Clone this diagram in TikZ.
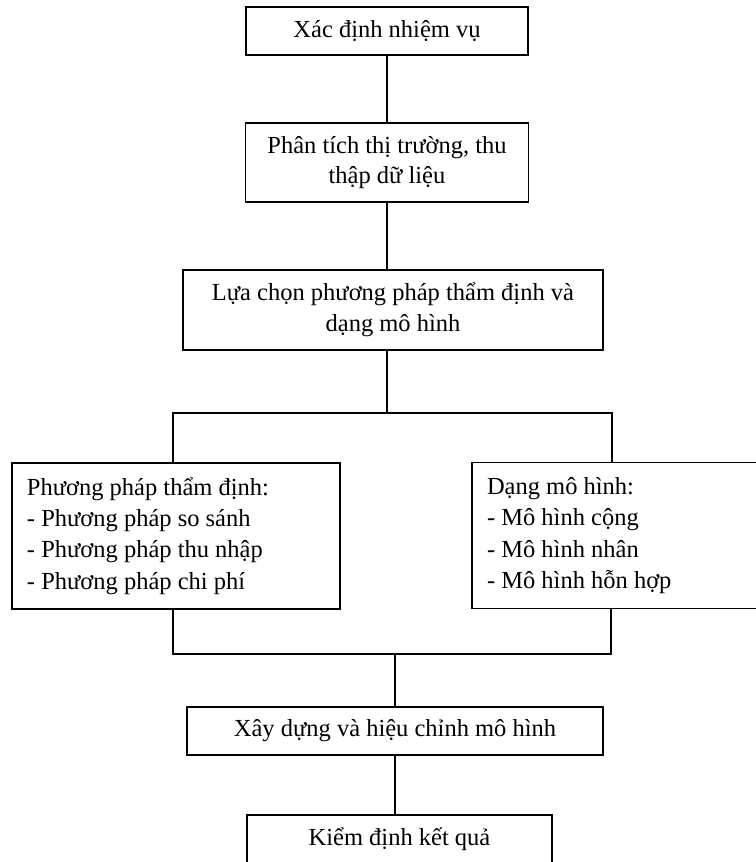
\documentclass[tikz,border=0pt]{standalone}
\usepackage{fontspec}
\setmainfont{Liberation Serif}
\usepackage{tikz}

\tikzset{
  stepbox/.style={draw, line width=1.6pt, minimum height=48pt, inner sep=0pt, align=center,
    font=\fontsize{24.5}{30.5}\selectfont},
  listbox/.style={draw, line width=1.6pt, minimum height=146pt, inner xsep=15pt, inner ysep=0pt,
    align=flush left, font=\fontsize{24.5}{31.3}\selectfont}
}

\begin{document}
\begin{tikzpicture}[x=1pt, y=-1pt, line width=1.6pt]
  \useasboundingbox (0,0) rectangle (755,862);

  % Main steps
  \node[stepbox, minimum width=282pt] (task) at (387,31) {Xác định nhiệm vụ};
  \node[stepbox, minimum width=283pt, minimum height=79pt] (market) at (387,162.5) {Phân tích thị trường, thu\\thập dữ liệu};
  \node[stepbox, minimum width=420pt, minimum height=80pt] (choice) at (393,310) {Lựa chọn phương pháp thẩm định và\\dạng mô hình};

  % Two branches
  \node[listbox, minimum width=328pt, text width=298pt] (methods) at (176,536) {Phương pháp thẩm định:\\- Phương pháp so sánh\\- Phương pháp thu nhập\\- Phương pháp chi phí};
  \node[listbox, minimum width=293pt, text width=263pt] (models) at (618.5,535.5) {Dạng mô hình:\\- Mô hình cộng\\- Mô hình nhân\\- Mô hình hỗn hợp};

  % Last steps
  \node[stepbox, minimum width=416pt] (build) at (395,731) {Xây dựng và hiệu chỉnh mô hình};
  \node[stepbox, minimum width=305pt] (check) at (399.5,839) {Kiểm định kết quả};

  % Connectors
  \coordinate (split) at (387,413);
  \coordinate (splitL) at (173,413);
  \coordinate (splitR) at (612,413);
  \coordinate (join) at (395,654);
  \coordinate (joinL) at (173,654);
  \coordinate (joinR) at (611,654);

  \draw (task.south) -- (market.north);
  \draw (market.south) -- (choice.north -| market.south);
  \draw (choice.south -| split) -- (split);
  \draw (splitL |- methods.north) -- (splitL) -- (splitR) -- (splitR |- models.north);
  \draw (joinL |- methods.south) -- (joinL) -- (joinR) -- (joinR |- models.south);
  \draw (join) -- (build.north);
  \draw (build.south) -- (check.north -| build.south);
\end{tikzpicture}
\end{document}
